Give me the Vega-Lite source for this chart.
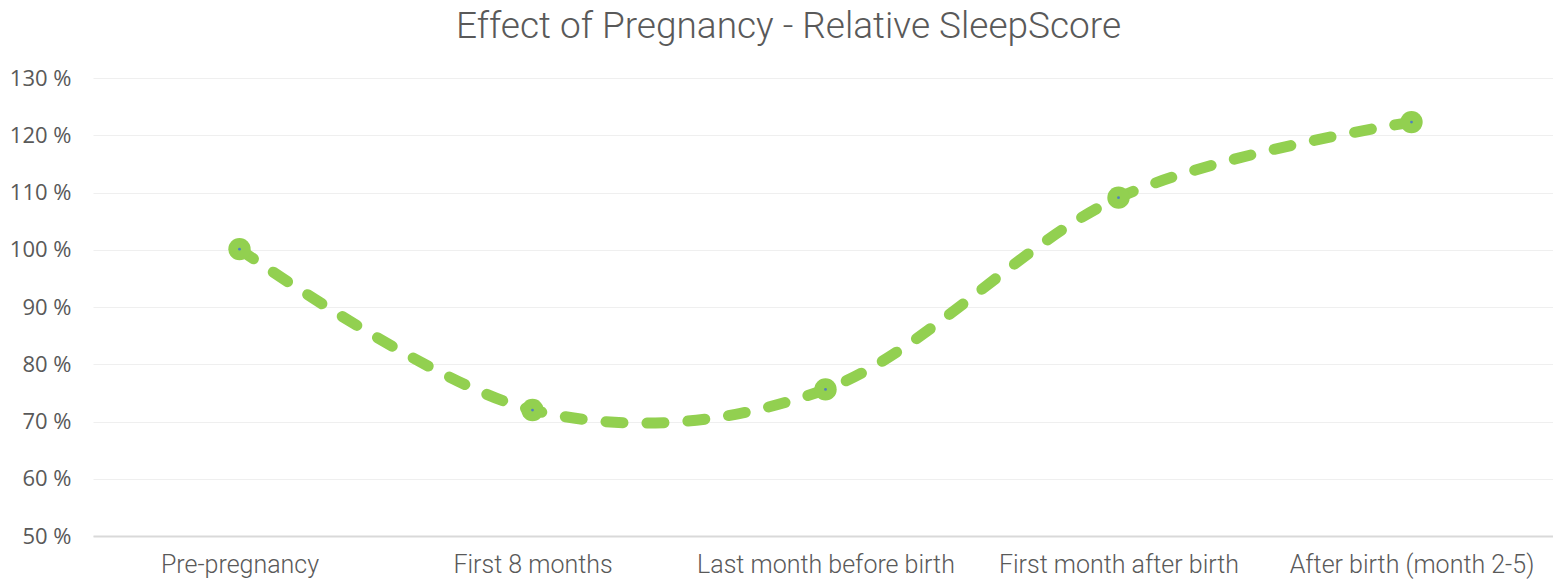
{
  "$schema": "https://vega.github.io/schema/vega-lite/v6.json",
  "width": 1465,
  "height": 458,
  "autosize": {"type": "none"},
  "padding": {"left": 93, "top": 78, "right": 0, "bottom": 52},
  "background": "white",
  "title": {
    "text": "Effect of Pregnancy - Relative SleepScore",
    "font": "Roboto",
    "fontWeight": 300,
    "fontSize": 37,
    "color": "#595959",
    "anchor": "middle",
    "dx": -37,
    "offset": 21
  },
  "data": {
    "values": [
      {"phase": "Pre-pregnancy", "score": 100.1},
      {"phase": "First 8 months", "score": 72.0},
      {"phase": "Last month before birth", "score": 75.6},
      {"phase": "First month after birth", "score": 109.1},
      {"phase": "After birth (month 2-5)", "score": 122.3}
    ]
  },
  "config": {
    "view": {"stroke": null},
    "axis": {
      "labelFont": "Open Sans",
      "labelColor": "#595959",
      "title": null
    }
  },
  "encoding": {
    "x": {
      "field": "phase",
      "type": "nominal",
      "sort": null,
      "scale": {"type": "point", "padding": 0.5},
      "axis": {
        "labelAngle": 0,
        "labelFont": "Roboto",
        "labelFontWeight": 300,
        "labelFontSize": 25,
        "labelPadding": 16,
        "labelLimit": 0,
        "ticks": false,
        "domainColor": "#d9d9d9",
        "domainWidth": 2,
        "grid": false
      }
    },
    "y": {
      "field": "score",
      "type": "quantitative",
      "scale": {"domain": [50, 130], "nice": false},
      "axis": {
        "values": [50, 60, 70, 80, 90, 100, 110, 120, 130],
        "labelExpr": "datum.value + ' %'",
        "labelFontSize": 22,
        "labelPadding": 22,
        "ticks": false,
        "domain": false,
        "gridColor": "#efefef",
        "gridWidth": 1
      }
    }
  },
  "layer": [
    {
      "mark": {
        "type": "line",
        "interpolate": "cardinal",
        "tension": 0,
        "color": "#92d050",
        "strokeWidth": 11,
        "strokeCap": "round",
        "strokeDash": [17, 24]
      }
    },
    {
      "mark": {"type": "point", "filled": true, "shape": "circle", "size": 500, "color": "#92d050", "opacity": 1}
    },
    {
      "mark": {"type": "point", "filled": true, "shape": "circle", "size": 8, "color": "#4f81bd", "opacity": 1}
    }
  ]
}
